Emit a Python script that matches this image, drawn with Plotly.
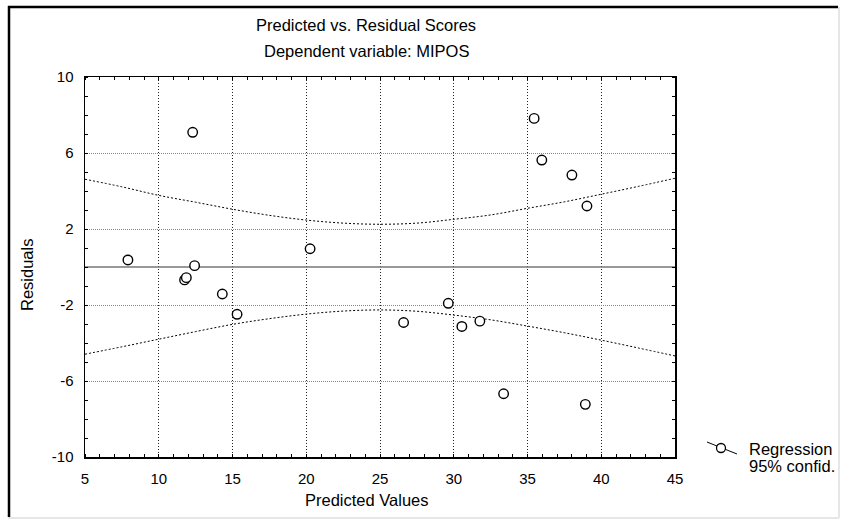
import plotly.graph_objects as go

# ---- data ----
predicted = [7.91, 11.75, 11.87, 12.30, 12.43, 14.31, 15.31, 20.26, 26.60, 29.63,
             30.55, 31.77, 33.38, 35.45, 35.97, 38.01, 39.03, 38.92]
residuals = [0.37, -0.68, -0.56, 7.09, 0.07, -1.42, -2.49, 0.96, -2.92, -1.91,
             -3.13, -2.85, -6.67, 7.82, 5.63, 4.84, 3.21, -7.23]

band_x = [5, 7.5, 10, 12.5, 15, 17.5, 20, 22.5, 25, 27.5, 30, 32.5, 35, 37.5, 40, 42.5, 45]
band_upper = [4.62, 4.22, 3.77, 3.41, 3.04, 2.72, 2.47, 2.31, 2.25, 2.31, 2.51, 2.74,
              3.09, 3.43, 3.83, 4.24, 4.67]
band_lower = [-4.59, -4.20, -3.80, -3.40, -3.02, -2.72, -2.48, -2.32, -2.26, -2.33, -2.53,
              -2.78, -3.11, -3.46, -3.85, -4.26, -4.68]

reg_x = [5, 45]
reg_y = [0, 0]

x_ticks = [5, 10, 15, 20, 25, 30, 35, 40, 45]
y_ticks = [-10, -6, -2, 2, 6, 10]

title_text = "Predicted vs. Residual Scores"
subtitle_text = "Dependent variable: MIPOS"
x_title = "Predicted Values"
y_title = "Residuals"
legend_lines = ["Regression", "95% confid."]

# ---- layout geometry ----
W, H = 842, 519
L, R, T, B = 85, 675, 77, 457  # plot area in pixels


def px(xp):
    return (xp - L) / (R - L)


def py(yp):
    return (B - yp) / (B - T)


FONT = "Arial, Liberation Sans, sans-serif"
TXT = 16.5
TICK = 15

fig = go.Figure()

fig.add_trace(go.Scatter(x=band_x, y=band_upper, mode="lines", line_shape="spline",
                         line=dict(color="black", width=1, dash="2px,2px"), hoverinfo="skip"))
fig.add_trace(go.Scatter(x=band_x, y=band_lower, mode="lines", line_shape="spline",
                         line=dict(color="black", width=1, dash="2px,2px"), hoverinfo="skip"))
fig.add_trace(go.Scatter(x=reg_x, y=reg_y, mode="lines",
                         line=dict(color="#777777", width=1.6)))
fig.add_trace(go.Scatter(x=predicted, y=residuals, mode="markers",
                         marker=dict(symbol="circle", size=9.5, color="white",
                                     line=dict(color="black", width=1.4))))

axis_common = dict(
    showline=True, linecolor="black", linewidth=1.5, mirror="ticks",
    ticks="", showgrid=True, gridwidth=1,
    zeroline=False, tickfont=dict(family=FONT, size=TICK, color="black"),
    ticklabelstandoff=7,
)

fig.update_xaxes(range=[5, 45], tickvals=x_ticks, ticktext=[str(v) for v in x_ticks],
                 gridcolor="#222222", griddash="1px,2px",
                 minor=dict(dtick=1, tick0=5, ticks="inside", ticklen=3, tickcolor="black",
                            showgrid=False),
                 **axis_common)
fig.update_yaxes(range=[-10, 10], tickvals=y_ticks, ticktext=[str(v) for v in y_ticks],
                 gridcolor="#888888", griddash="1px,1px",
                 minor=dict(dtick=1, tick0=-10, ticks="inside", ticklen=3, tickcolor="black",
                            showgrid=False),
                 **axis_common)

annotations = [
    dict(text=title_text, x=px(366), y=py(25)),
    dict(text=subtitle_text, x=px(366), y=py(51.5)),
    dict(text=x_title, x=px(367), y=py(500)),
    dict(text=y_title, x=px(27), y=py(275), textangle=-90),
    dict(text=legend_lines[0], x=px(747), y=py(448.5), xanchor="left"),
    dict(text=legend_lines[1], x=px(747), y=py(466.5), xanchor="left"),
]
for a in annotations:
    a.setdefault("xanchor", "center")
    a.update(xref="paper", yref="paper", yanchor="middle", showarrow=False,
             font=dict(family=FONT, size=TXT, color="black"))

shapes = [
    # outer frame: dark top/left, light bottom/right
    dict(type="line", x0=px(8), x1=px(838), y0=py(7), y1=py(7), line=dict(color="black", width=2.5)),
    dict(type="line", x0=px(9), x1=px(9), y0=py(6), y1=py(517), line=dict(color="black", width=2.5)),
    dict(type="line", x0=px(8), x1=px(839), y0=py(518), y1=py(518), line=dict(color="#e6e6e6", width=2)),
    dict(type="line", x0=px(839), x1=px(839), y0=py(7), y1=py(518), line=dict(color="#e6e6e6", width=2)),
    # legend symbol
    dict(type="line", x0=px(707), x1=px(737), y0=py(442), y1=py(454), line=dict(color="black", width=1)),
    dict(type="circle", xref="paper", yref="paper", xsizemode="pixel", ysizemode="pixel",
         xanchor=px(721), yanchor=py(448), x0=-4.5, x1=4.5, y0=-4.5, y1=4.5,
         fillcolor="white", line=dict(color="black", width=1.3)),
]
for s in shapes:
    s.setdefault("xref", "paper")
    s.setdefault("yref", "paper")
    s["layer"] = "above"

fig.update_layout(
    width=W, height=H, autosize=False,
    margin=dict(l=L, r=W - R, t=T, b=H - B, pad=0),
    paper_bgcolor="white", plot_bgcolor="white",
    showlegend=False, annotations=annotations, shapes=shapes,
    font=dict(family=FONT, color="black"), hovermode=False,
)

fig.write_html("out.html", config={"displayModeBar": False, "staticPlot": True},
               post_script="document.body.style.margin='0';document.body.style.overflow='hidden';")
